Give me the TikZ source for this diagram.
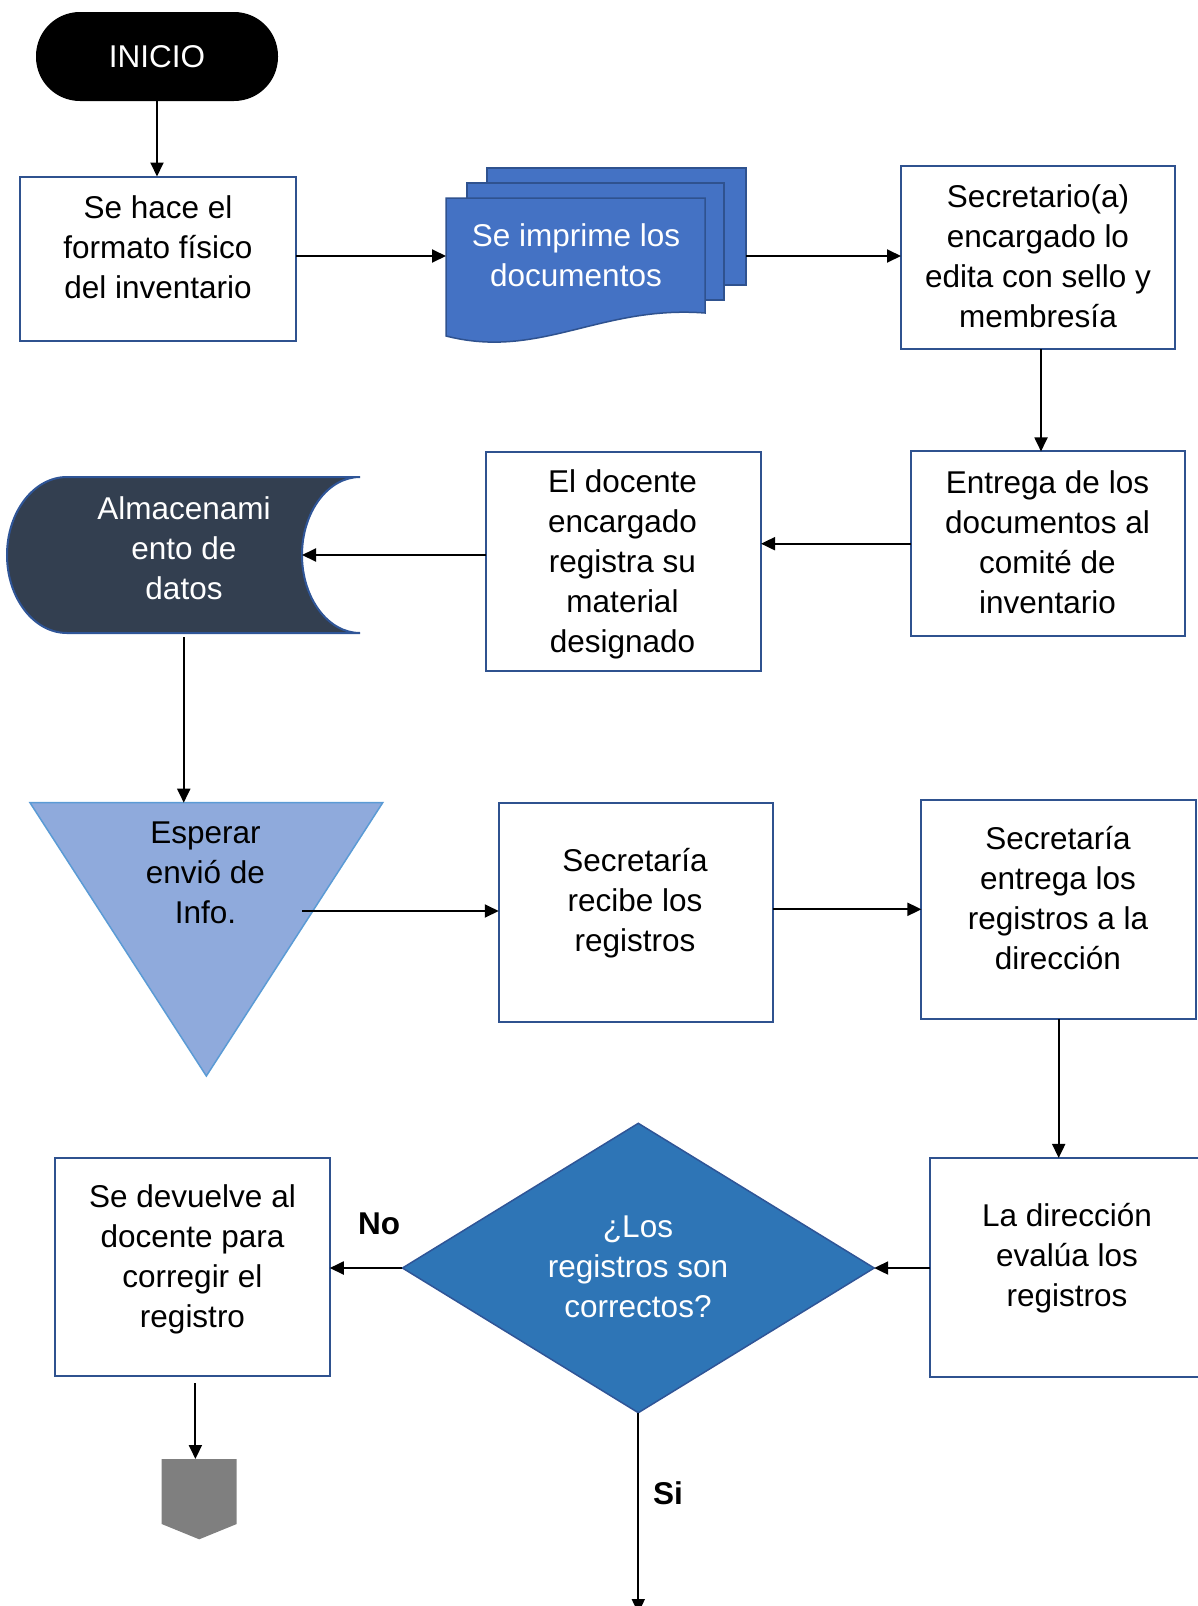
\documentclass[tikz,border=0pt]{standalone}
\usepackage{fontspec}
\setmainfont{Liberation Sans}
\usetikzlibrary{arrows.meta}
\definecolor{boxline}{HTML}{2F528F}
\definecolor{docfill}{HTML}{4472C4}
\definecolor{storfill}{HTML}{333F50}
\definecolor{storline}{HTML}{2F5597}
\definecolor{waitfill}{HTML}{8FAADC}
\definecolor{waitline}{HTML}{5B9BD5}
\definecolor{decfill}{HTML}{2E75B6}
\definecolor{decline}{HTML}{2F5597}
\definecolor{offfill}{HTML}{7F7F7F}

\begin{document}
\begin{tikzpicture}[x=1pt,y=-1pt,
  every node/.style={inner sep=0pt, outer sep=0pt},
  txt/.style={align=center, font=\fontsize{31.5}{40}\selectfont},
  wtxt/.style={txt, text=white},
  lbl/.style={font=\fontsize{31.5}{40}\selectfont\bfseries},
  procbox/.style={draw=boxline, line width=2pt, fill=white, rectangle},
  ghost/.style={rectangle},
  arr/.style={draw=black, line width=1.9pt, -{Triangle[length=14pt,width=13pt]}},
]
\useasboundingbox (0,0) rectangle (1198,1606);

% start terminator
\node[fill=black, rounded corners=44pt, minimum width=242pt, minimum height=89pt,
      text=white, font=\fontsize{31.5}{40}\selectfont] (inicio) at (157,56.5) {INICIO};

% first process
\node[procbox, minimum width=276pt, minimum height=164pt] (box1) at (158,258.5) {};
\node[txt] (box1t) at (158,247) {Se hace el\\formato físico\\del inventario};

% multi-document stack
\node[draw=boxline, fill=docfill, line width=1.5pt, minimum width=259pt, minimum height=117pt] (docC) at (616.5,226.5) {};
\node[draw=boxline, fill=docfill, line width=1.5pt, minimum width=257pt, minimum height=117pt] (docB) at (595.5,241.5) {};
\path[draw=boxline, fill=docfill, line width=1.5pt]
  (446,198) -- (705,198) -- (705,313) .. controls (600,305) and (540,360) .. (446,336) -- cycle;
\coordinate (docAw) at (446,256);
\node[wtxt] (docAt) at (576,255) {Se imprime los\\documentos};

% right column, top
\node[procbox, minimum width=274pt, minimum height=183pt] (box3) at (1038,257.5) {};
\node[txt] (box3t) at (1038,256) {Secretario(a)\\encargado lo\\edita con sello y\\membresía};
\coordinate (box3down) at (1041,349);

\node[procbox, minimum width=274pt, minimum height=184.5pt] (box4) at (1048,543.7) {};
\node[txt] (box4t) at (1047.5,542) {Entrega de los\\documentos al\\comité de\\inventario};

\node[procbox, minimum width=275pt, minimum height=219pt] (box5) at (623.5,561) {};
\node[txt] (box5t) at (622.5,564.5) {El docente\\encargado\\registra su\\material\\designado};

% stored data
\node[ghost, minimum width=352.5pt, minimum height=156pt] (stor) at (183.75,555) {};
\path[draw=storline, fill=storfill, line width=2pt]
  (67,477) .. controls (33.9,477) and (7,511.9) .. (7,555)
  .. controls (7,598.1) and (33.9,633) .. (67,633)
  -- (360,633)
  .. controls (328,633) and (302,598.1) .. (302,555)
  .. controls (302,511.9) and (328,477) .. (360,477) -- cycle;
\coordinate (storR) at (302,555);
\node[wtxt] (stort) at (184,548) {Almacenami\\ento de\\datos};

% delay / wait (merge triangle)
\node[ghost, minimum width=352.7pt, minimum height=273.3pt] (tri) at (206.35,939.35) {};
\path[draw=waitline, fill=waitfill, line width=1.5pt]
  (tri.north west) -- (tri.north east) -- (tri.south) -- cycle;
\node[txt] (trit) at (205.5,873) {Esperar\\envió de\\Info.};
\coordinate (triOut) at (302,911);

% middle row
\node[procbox, minimum width=274.5pt, minimum height=219pt] (box6) at (636,912.5) {};
\node[txt] (box6t) at (635,903) {Secretaría\\recibe los\\registros};

\node[procbox, minimum width=274.5pt, minimum height=219pt] (box7) at (1058.7,909.3) {};
\node[txt] (box7t) at (1058,898.5) {Secretaría\\entrega los\\registros a la\\dirección};

% bottom row
\node[procbox, minimum width=274pt, minimum height=218.7pt] (box8) at (1067,1267.3) {};
\node[txt] (box8t) at (1067,1258.5) {La dirección\\evalúa los\\registros};

\node[ghost, minimum width=471.7pt, minimum height=289.4pt] (dec) at (638.3,1268) {};
\path[draw=decline, fill=decfill, line width=1.5pt]
  (dec.north) -- (dec.east) -- (dec.south) -- (dec.west) -- cycle;
\node[wtxt] (dect) at (638,1266.5) {¿Los\\registros son\\correctos?};

\node[procbox, minimum width=274.7pt, minimum height=218pt] (box9) at (192.4,1267) {};
\node[txt] (box9t) at (192.5,1259) {Se devuelve al\\docente para\\corregir el\\registro};

% off-page connector
\node[ghost, minimum width=75pt, minimum height=80.3pt] (pent) at (199.2,1499.15) {};
\path[fill=offfill]
  (pent.north west) -- (pent.north east) -- ([yshift=15.3pt]pent.south east)
  -- (pent.south) -- ([yshift=15.3pt]pent.south west) -- cycle;

\coordinate (exitS) at (638.3,1613);

% branch labels
\node[lbl] (lblNo) at (379,1224) {No};
\node[lbl] (lblSi) at (668,1493) {Si};

% connectors
\draw[arr] (inicio.south) -- (inicio.south |- box1.north);
\draw[arr] (box1.east |- docAw) -- (docAw);
\draw[arr] (docC.east |- docAw) -- (docAw -| box3.west);
\draw[arr] (box3down) -- (box3down |- box4.north);
\draw[arr] (box4.west) -- (box4.west -| box5.east);
\draw[arr] (box5.west |- storR) -- (storR);
\draw[arr] ([yshift=-4pt]stor.south) -- (stor.south |- tri.north);
\draw[arr] (triOut) -- (triOut -| box6.west);
\draw[arr] (box7.west -| box6.east) -- (box7.west);
\draw[arr] (box7.south) -- (box7.south |- box8.north);
\draw[arr] (box8.west |- dec.east) -- (dec.east);
\draw[arr] (dec.west) -- (dec.west -| box9.east);
\draw[arr] ([xshift=3pt,yshift=-7pt]box9.south) -- ([xshift=3pt]box9.south |- pent.north);
\draw[arr] (dec.south) -- (exitS);
\end{tikzpicture}
\end{document}
